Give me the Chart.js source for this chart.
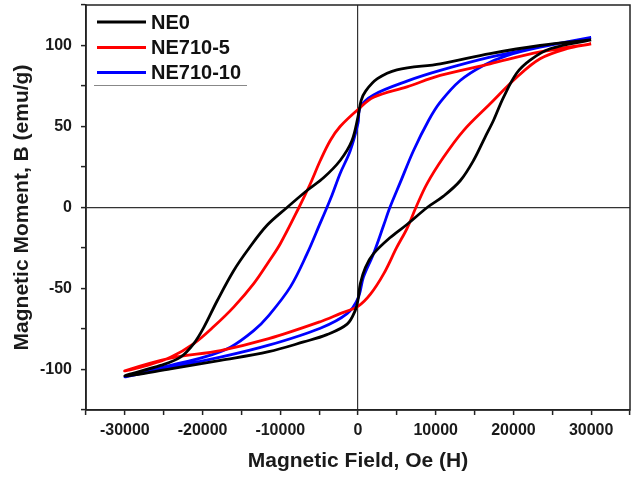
<!DOCTYPE html>
<html>
<head>
<meta charset="utf-8">
<script src="https://cdn.jsdelivr.net/npm/chart.js@4/dist/chart.umd.min.js"></script>
<style>
  html, body { margin: 0; padding: 0; background: #fff; }
  #wrap { width: 644px; height: 479px; }
</style>
</head>
<body>
<div id="wrap"><canvas id="loop-chart" width="644" height="479"></canvas></div>
<script>
// series names
const seriesNames = ["NE0", "NE710-5", "NE710-10"];

// NE0: descending branch (+30000 -> -30000) then ascending branch back to +30000
const ne0Field = [
    30000, 23430, 17000, 10580, 5000, 2500, 1000, 400, 0, -800, -2300, -4400, -6560, -9130,
    -11700, -14000, -16000, -18100, -19840, -21130, -22840, -25410, -30000,
    -24130, -17700, -11490, -7000, -4000, -1400, -350, 0, 300, 950, 2000, 4150, 6300, 8900,
    11000, 13150, 14860, 16360, 17430, 18720, 20430, 22150, 24720, 30000
];
const ne0Moment = [
    103.5, 100, 95, 88.7, 85, 79.5, 72, 66, 56, 41, 29, 18.5, 10.5, 0,
    -11, -25, -39, -57.4, -74, -84, -92.4, -97.5, -104,
    -99.6, -94.4, -89, -83, -78.5, -72, -63.5, -57, -47, -37, -28.5, -18.5, -10.5, 0,
    7, 16.5, 29, 43.5, 53.7, 68, 83, 91, 98, 103.5
];

// NE710-5
const ne5Field = [
    30000, 23430, 17000, 10580, 6300, 2000, 0, -2300, -3550, -4850, -6150, -7600,
    -10000, -11490, -13420, -16000, -18560, -21130, -24130, -27120, -30000,
    -24130, -17700, -11490, -4850, -2300, 0, 1600, 3300, 5000, 6300, 7450, 8870,
    11000, 13580, 17000, 20430, 23430, 26860, 30000
];
const ne5Moment = [
    101, 96, 88.7, 81.5, 74.5, 68, 60.5, 50, 41.5, 29, 14.5, 0,
    -22.4, -33.5, -47, -61.5, -73.5, -84, -92.5, -97.5, -100.8,
    -93, -88.3, -81, -70.5, -65.5, -61, -53.5, -41, -24.5, -13, 0, 14.6,
    31, 47.5, 64, 80.4, 91.8, 98, 101
];

// NE710-10
const ne10Field = [
    30000, 23430, 17000, 10580, 6300, 2000, 300, 0, -1000, -2300, -3350, -4000, -4850,
    -6550, -8700, -11490, -13420, -16410, -19840, -24130, -30000,
    -24130, -17700, -11490, -4850, -1400, 0, 700, 2000, 3300, 4100, 5440, 7150,
    9080, 10580, 13150, 16140, 19150, 23430, 30000
];
const ne10Moment = [
    105, 99, 92.8, 84.6, 78, 69.5, 62, 52, 35, 21, 7.5, 0, -9.5,
    -28.5, -49, -66.7, -76, -86.2, -92.4, -97.5, -104.5,
    -98.6, -92.4, -85, -74.5, -65.5, -56, -43, -28.5, -11, 0, 15.5, 35.2,
    53.7, 65, 78.4, 87.7, 93.8, 99, 105
];

const seriesColors = ["#000000", "#ff0000", "#0000ff"];

// axis ticks
const xMajorTicks = [-30000, -20000, -10000, 0, 10000, 20000, 30000];
const yMajorTicks = [-100, -50, 0, 50, 100];

function toPoints(xs, ys) {
    return xs.map(function (x, i) { return { x: x, y: ys[i] }; });
}

const fieldSets = [ne0Field, ne5Field, ne10Field];
const momentSets = [ne0Moment, ne5Moment, ne10Moment];

const fontFamily = 'Arial, "Liberation Sans", sans-serif';

// box around the plot + legend inside the top-left corner
const frameAndLegend = {
    id: 'frameAndLegend',
    afterDatasetsDraw(chart) {
        const ctx = chart.ctx;
        const a = chart.chartArea;
        ctx.save();
        ctx.strokeStyle = '#222';
        ctx.lineWidth = 1.5;
        ctx.strokeRect(a.left, a.top, a.right - a.left, a.bottom - a.top);

        const x0 = a.left + 11;
        const rowY = [a.top + 17, a.top + 42.5, a.top + 67.5];
        ctx.font = 'bold 20px ' + fontFamily;
        ctx.textBaseline = 'middle';
        chart.data.datasets.forEach(function (ds, i) {
            ctx.strokeStyle = ds.borderColor;
            ctx.lineWidth = 3;
            ctx.beginPath();
            ctx.moveTo(x0, rowY[i]);
            ctx.lineTo(x0 + 49, rowY[i]);
            ctx.stroke();
            ctx.fillStyle = '#111';
            ctx.fillText(ds.label, x0 + 54, rowY[i] + 1);
        });
        ctx.strokeStyle = '#888';
        ctx.lineWidth = 1;
        ctx.beginPath();
        ctx.moveTo(a.left + 8, a.top + 80.5);
        ctx.lineTo(a.left + 161, a.top + 80.5);
        ctx.stroke();
        ctx.restore();
    }
};

new Chart(document.getElementById("loop-chart"), {
    type: 'scatter',
    data: {
        datasets: seriesNames.map(function (name, i) {
            return {
                label: name,
                data: toPoints(fieldSets[i], momentSets[i]),
                showLine: true,
                borderColor: seriesColors[i],
                backgroundColor: seriesColors[i],
                borderWidth: 2.8,
                pointRadius: 0,
                tension: 0.35,
                fill: false
            };
        })
    },
    options: {
        responsive: false,
        maintainAspectRatio: false,
        animation: false,
        layout: { padding: { top: 5, right: 14, left: 0, bottom: 0 } },
        plugins: {
            legend: { display: false },
            tooltip: { enabled: false }
        },
        scales: {
            x: {
                type: 'linear',
                min: -35000,
                max: 35000,
                afterFit: function (scale) {
                    scale.height = 69;
                    scale.paddingLeft = 0;
                    scale.paddingRight = 0;
                },
                afterBuildTicks: function (scale) {
                    const t = [];
                    for (let v = -35000; v <= 35000; v += 5000) t.push({ value: v });
                    scale.ticks = t;
                },
                ticks: {
                    autoSkip: false,
                    maxRotation: 0,
                    padding: 6,
                    color: '#1a1a1a',
                    font: { family: fontFamily, size: 16, weight: 'bold' },
                    callback: function (v) { return xMajorTicks.indexOf(v) >= 0 ? String(v) : ''; }
                },
                grid: {
                    drawOnChartArea: true,
                    tickLength: 5,
                    tickColor: '#222',
                    tickWidth: 1.5,
                    lineWidth: 1.2,
                    color: function (c) { return c.tick && c.tick.value === 0 ? '#333' : 'rgba(0,0,0,0)'; }
                },
                border: { display: true, color: '#222', width: 1.5 },
                title: {
                    display: true,
                    text: 'Magnetic Field, Oe (H)',
                    color: '#1a1a1a',
                    font: { family: fontFamily, size: 21, weight: 'bold' },
                    padding: { top: 0, bottom: 5 }
                }
            },
            y: {
                type: 'linear',
                min: -125,
                max: 125,
                afterFit: function (scale) {
                    scale.width = 86;
                    scale.paddingTop = 0;
                    scale.paddingBottom = 0;
                },
                afterBuildTicks: function (scale) {
                    const t = [];
                    for (let v = -125; v <= 125; v += 25) t.push({ value: v });
                    scale.ticks = t;
                },
                ticks: {
                    autoSkip: false,
                    padding: 9,
                    color: '#1a1a1a',
                    font: { family: fontFamily, size: 16, weight: 'bold' },
                    callback: function (v) { return yMajorTicks.indexOf(v) >= 0 ? String(v) : ''; }
                },
                grid: {
                    drawOnChartArea: true,
                    tickLength: 5,
                    tickColor: '#222',
                    tickWidth: 1.5,
                    lineWidth: 1.2,
                    color: function (c) { return c.tick && c.tick.value === 0 ? '#333' : 'rgba(0,0,0,0)'; }
                },
                border: { display: true, color: '#222', width: 1.5 },
                title: {
                    display: true,
                    text: 'Magnetic Moment, B (emu/g)',
                    color: '#1a1a1a',
                    font: { family: fontFamily, size: 21, weight: 'bold' },
                    padding: { top: 10, bottom: 0 }
                }
            }
        }
    },
    plugins: [frameAndLegend]
});
</script>
</body>
</html>
